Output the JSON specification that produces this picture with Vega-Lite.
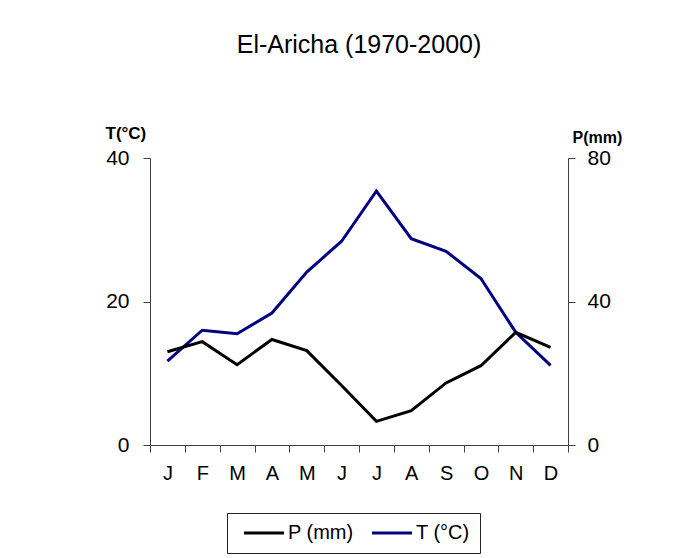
{
  "$schema": "https://vega.github.io/schema/vega-lite/v6.json",
  "autosize": "none",
  "width": 418,
  "height": 287,
  "padding": {"left": 150, "top": 158, "right": 121, "bottom": 113},
  "background": "white",
  "config": {
    "font": "Liberation Sans",
    "view": {"stroke": null},
    "axis": {"grid": false, "domainColor": "#404040", "tickColor": "#404040", "labelColor": "black", "titleColor": "black", "labelFont": "Liberation Sans", "titleFont": "Liberation Sans"}
  },
  "title": {"text": "El-Aricha (1970-2000)", "fontSize": 25, "fontWeight": "normal", "font": "Liberation Sans", "color": "black", "anchor": "middle", "offset": 66},
  "data": {
    "values": [
      {"month": "Jan", "series": "T (°C)", "value": 11.7},
      {"month": "Feb", "series": "T (°C)", "value": 16.0},
      {"month": "Mar", "series": "T (°C)", "value": 15.5},
      {"month": "Apr", "series": "T (°C)", "value": 18.4},
      {"month": "May", "series": "T (°C)", "value": 24.1},
      {"month": "Jun", "series": "T (°C)", "value": 28.4},
      {"month": "Jul", "series": "T (°C)", "value": 35.4},
      {"month": "Aug", "series": "T (°C)", "value": 28.75},
      {"month": "Sep", "series": "T (°C)", "value": 27.0},
      {"month": "Oct", "series": "T (°C)", "value": 23.2},
      {"month": "Nov", "series": "T (°C)", "value": 15.7},
      {"month": "Dec", "series": "T (°C)", "value": 11.1},
      {"month": "Jan", "series": "P (mm)", "value": 26.0},
      {"month": "Feb", "series": "P (mm)", "value": 28.8},
      {"month": "Mar", "series": "P (mm)", "value": 22.4},
      {"month": "Apr", "series": "P (mm)", "value": 29.4},
      {"month": "May", "series": "P (mm)", "value": 26.3},
      {"month": "Jun", "series": "P (mm)", "value": 16.6},
      {"month": "Jul", "series": "P (mm)", "value": 6.6},
      {"month": "Aug", "series": "P (mm)", "value": 9.6},
      {"month": "Sep", "series": "P (mm)", "value": 17.3},
      {"month": "Oct", "series": "P (mm)", "value": 22.1},
      {"month": "Nov", "series": "P (mm)", "value": 31.4},
      {"month": "Dec", "series": "P (mm)", "value": 27.2}
    ]
  },
  "encoding": {
    "x": {
      "field": "month", "type": "ordinal", "bandPosition": 0.5,
      "sort": ["Jan","Feb","Mar","Apr","May","Jun","Jul","Aug","Sep","Oct","Nov","Dec"],
      "scale": {"type": "band", "paddingInner": 0, "paddingOuter": 0},
      "axis": {"title": null, "labelAngle": 0, "tickBand": "extent", "tickSize": 7, "labelFontSize": 20, "labelPadding": 11, "labelExpr": "substring(datum.label, 0, 1)"}
    },
    "color": {
      "field": "series", "type": "nominal",
      "scale": {"domain": ["P (mm)", "T (°C)"], "range": ["#000000", "#000080"]},
      "legend": {"title": null, "orient": "none", "direction": "horizontal", "legendX": 77, "legendY": 355, "symbolType": "M-0.6,0H7.4", "symbolSize": 100, "symbolStrokeWidth": 3, "labelFontSize": 20, "labelFont": "Liberation Sans", "labelColor": "black", "strokeColor": "#222222", "padding": 10, "columnPadding": 11, "labelOffset": 31}
    }
  },
  "layer": [
    {
      "transform": [{"filter": "datum.series === 'T (°C)'"}],
      "mark": {"type": "line", "strokeWidth": 3},
      "encoding": {
        "y": {
          "field": "value", "type": "quantitative",
          "scale": {"domain": [0, 40]},
          "axis": {"orient": "left", "values": [0, 20, 40], "tickSize": 7, "labelFontSize": 21, "labelPadding": 14, "title": "T(°C)", "titleAngle": 0, "titleFontSize": 17, "titleFontWeight": "bold", "titleAlign": "left", "titleBaseline": "alphabetic", "titleX": -45, "titleY": -20}
        }
      }
    },
    {
      "transform": [{"filter": "datum.series === 'P (mm)'"}],
      "mark": {"type": "line", "strokeWidth": 3},
      "encoding": {
        "y": {
          "field": "value", "type": "quantitative",
          "scale": {"domain": [0, 80]},
          "axis": {"orient": "right", "values": [0, 40, 80], "tickSize": 7, "labelFontSize": 21, "labelPadding": 12, "title": "P(mm)", "titleAngle": 0, "titleFontSize": 16, "titleFontWeight": "bold", "titleAlign": "left", "titleBaseline": "alphabetic", "titleX": 4, "titleY": -16}
        }
      }
    }
  ],
  "resolve": {"scale": {"y": "independent"}}
}
